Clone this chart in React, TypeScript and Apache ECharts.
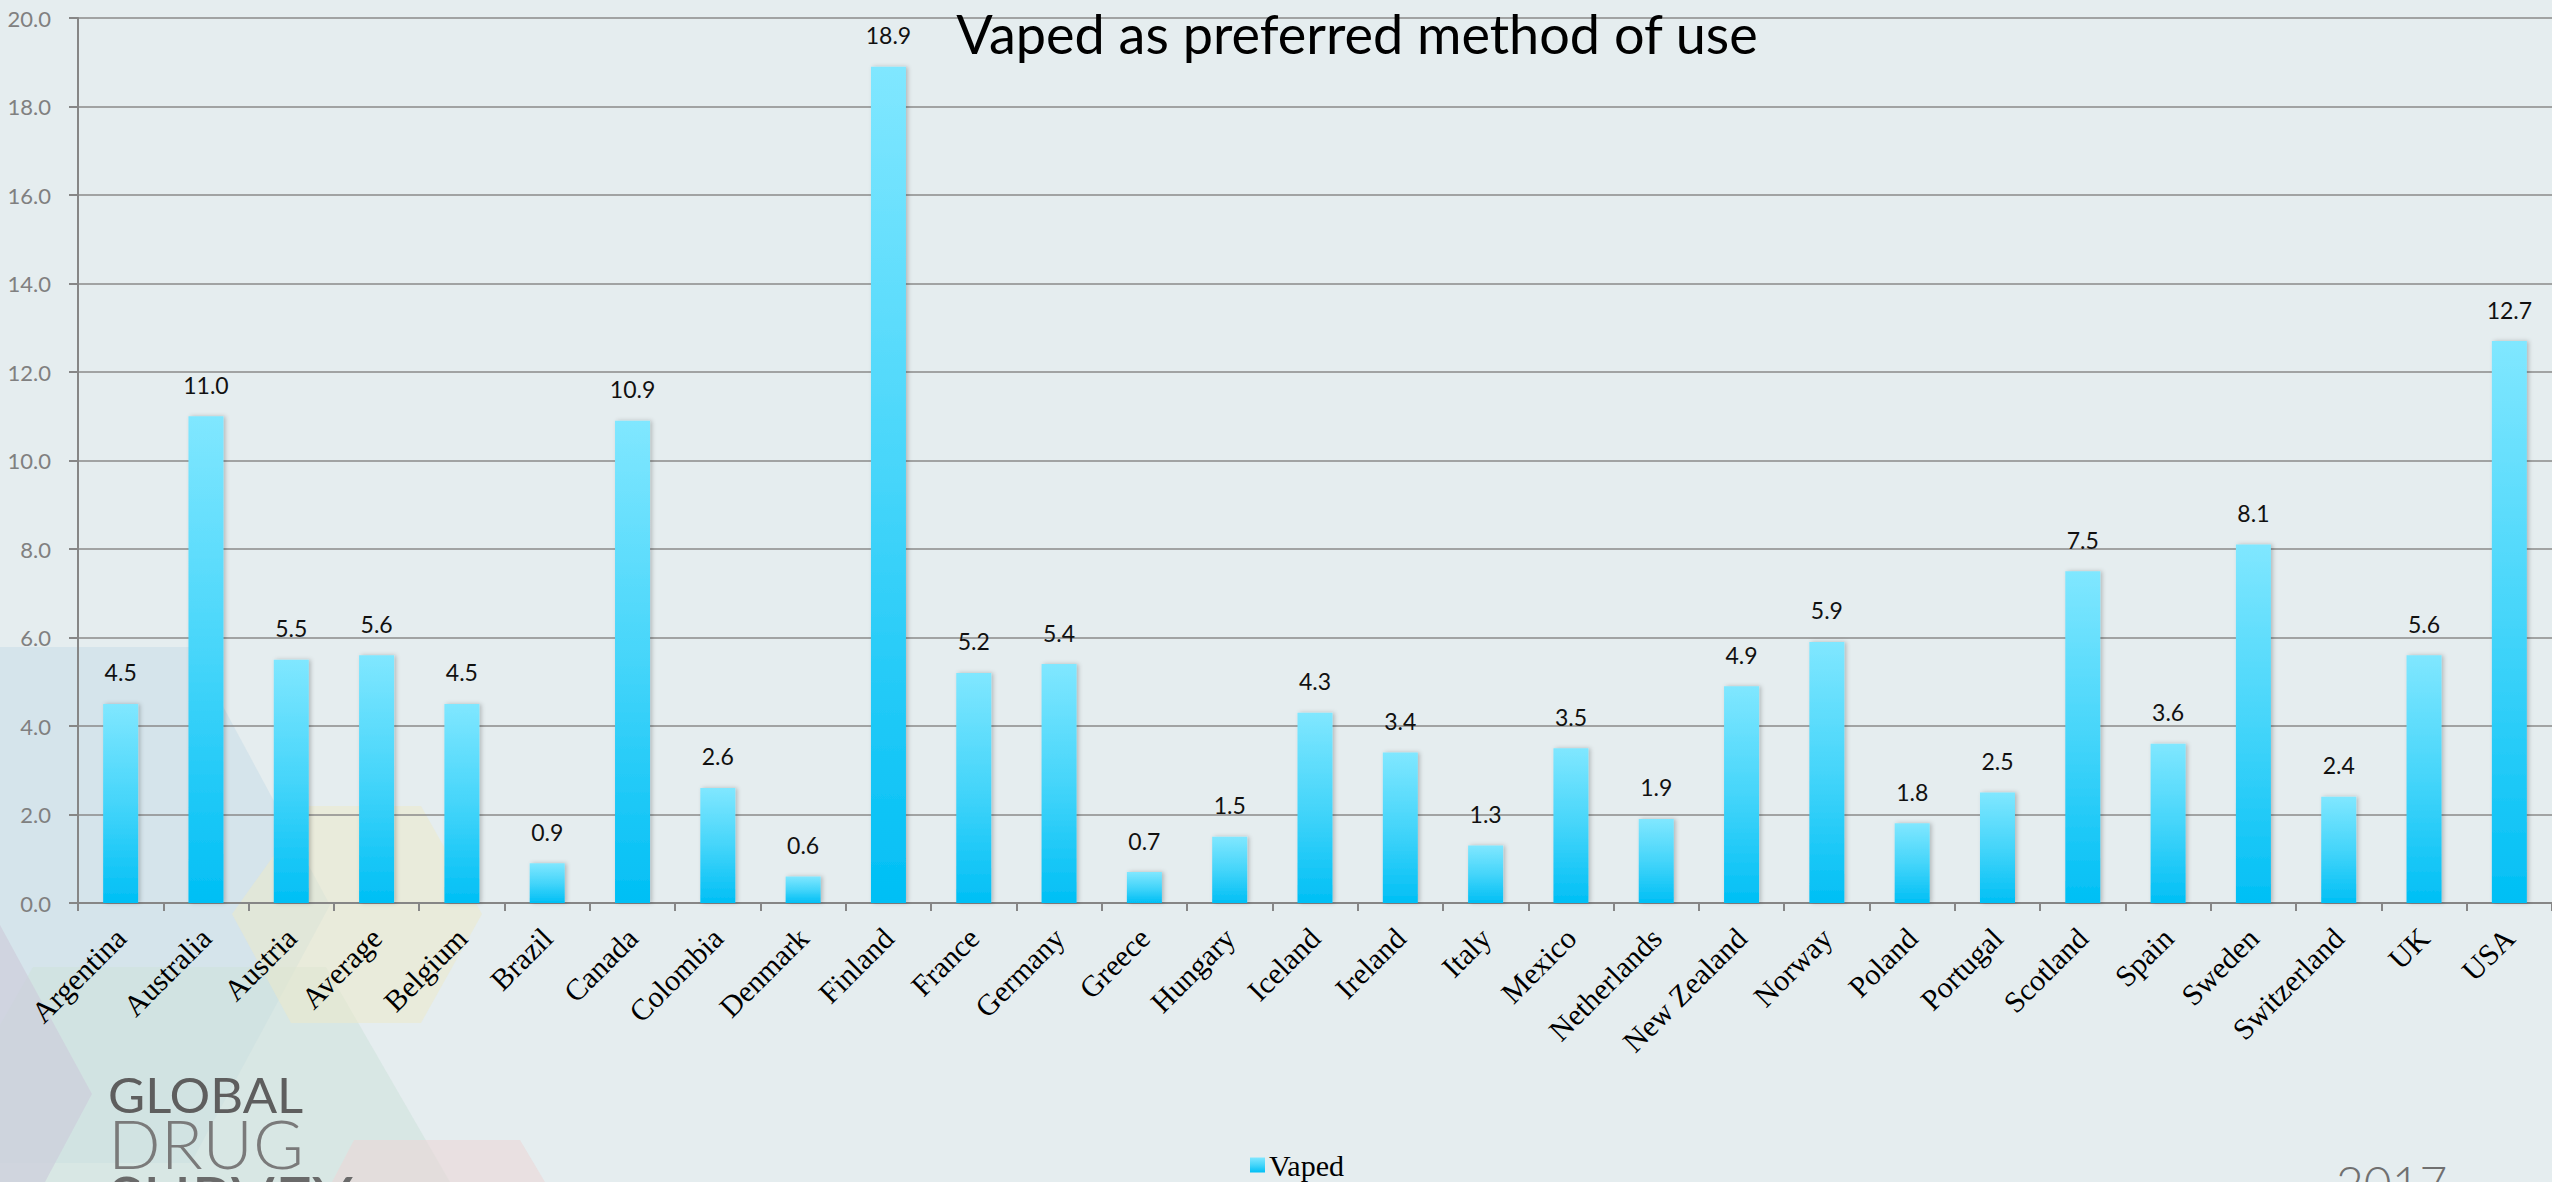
import React, { useEffect, useRef } from "react";
import * as echarts from "echarts";

const chartTitle = "Vaped as preferred method of use";
const seriesName = "Vaped";
const categories = [
  "Argentina", "Australia", "Austria", "Average", "Belgium", "Brazil", "Canada",
  "Colombia", "Denmark", "Finland", "France", "Germany", "Greece", "Hungary",
  "Iceland", "Ireland", "Italy", "Mexico", "Netherlands", "New Zealand", "Norway",
  "Poland", "Portugal", "Scotland", "Spain", "Sweden", "Switzerland", "UK", "USA",
];
const vapedValues = [
  4.5, 11.0, 5.5, 5.6, 4.5, 0.9, 10.9, 2.6, 0.6, 18.9, 5.2, 5.4, 0.7, 1.5,
  4.3, 3.4, 1.3, 3.5, 1.9, 4.9, 5.9, 1.8, 2.5, 7.5, 3.6, 8.1, 2.4, 5.6, 12.7,
];
const yMin = 0;
const yMax = 20;
const yInterval = 2;

export default function App() {
  const ref = useRef<HTMLDivElement>(null);

  useEffect(() => {
    if (!ref.current) return;
    const chart = echarts.init(ref.current, null, { renderer: "svg" });

    const barGradient = new echarts.graphic.LinearGradient(0, 0, 0, 1, [
      { offset: 0, color: "#80E7FF" },
      { offset: 0.5, color: "#45D5FA" },
      { offset: 1, color: "#00BFF5" },
    ]);

    const deco = (points: number[][], fill: string) => ({
      type: "polygon",
      z: -10,
      silent: true,
      shape: { points },
      style: { fill },
    });

    chart.setOption({
      animation: false,
      backgroundColor: "#E5EDEF",
      grid: { left: 78, top: 18, width: 2481, bottom: 279, containLabel: false },
      legend: {
        data: [seriesName],
        left: 1245,
        top: 1145,
        itemWidth: 15,
        itemHeight: 15,
        itemGap: 6,
        icon: "rect",
        selectedMode: false,
        textStyle: { fontFamily: "Liberation Serif", fontSize: 30, color: "#000", padding: [0, 0, 0, -1] },
      },
      xAxis: {
        type: "category",
        data: categories,
        boundaryGap: true,
        axisLine: { lineStyle: { color: "#868686", width: 2 } },
        axisTick: { show: true, length: 8, alignWithLabel: false, lineStyle: { color: "#868686", width: 2 } },
        axisLabel: {
          interval: 0,
          rotate: 45,
          margin: 30,
          fontFamily: "Liberation Serif",
          fontSize: 30,
          color: "#000",
        },
      },
      yAxis: {
        type: "value",
        min: yMin,
        max: yMax,
        interval: yInterval,
        axisLine: { show: true, lineStyle: { color: "#868686", width: 2 } },
        axisTick: { show: true, length: 9, lineStyle: { color: "#868686", width: 2 } },
        splitLine: { lineStyle: { color: "#8A8A8A", width: 1.5 } },
        axisLabel: {
          margin: 27,
          fontFamily: "Lato",
          fontSize: 22,
          color: "#808080",
          formatter: (v: number) => v.toFixed(1),
        },
      },
      series: [
        {
          name: seriesName,
          type: "bar",
          data: vapedValues,
          barWidth: 35,
          itemStyle: {
            color: barGradient,
            shadowColor: "rgba(0,0,0,0.22)",
            shadowBlur: 4,
            shadowOffsetX: 2,
          },
          label: {
            show: true,
            position: "top",
            distance: 20,
            fontFamily: "Lato",
            fontSize: 23,
            color: "#111",
            formatter: (p: any) => Number(p.value).toFixed(1),
          },
        },
      ],
      graphic: {
        elements: [
          deco([[0, 647], [191, 647], [330, 905], [191, 1163], [0, 1163]], "rgba(200,220,232,0.55)"),
          deco([[33, 967], [326, 967], [450, 1182], [0, 1182], [0, 1025]], "rgba(205,225,218,0.55)"),
          deco([[0, 925], [92, 1094], [45, 1182], [0, 1182]], "rgba(205,205,220,0.7)"),
          deco([[309, 806], [421, 806], [482, 914], [421, 1023], [291, 1023], [232, 914]], "rgba(238,234,200,0.5)"),
          deco([[354, 1140], [520, 1140], [545, 1182], [332, 1182]], "rgba(235,215,215,0.6)"),
          {
            type: "text",
            x: 1357,
            y: 33,
            z: 10,
            style: {
              text: chartTitle,
              fill: "#000",
              font: "54px Lato",
              align: "center",
              verticalAlign: "middle",
              textAlign: "center",
              textVerticalAlign: "middle",
            },
          },
          {
            type: "text",
            x: 108,
            y: 1095,
            z: 5,
            scaleX: 1.06,
            style: {
              text: "GLOBAL",
              fill: "#5E5E5E",
              font: "48px Lato",
              verticalAlign: "middle",
              textVerticalAlign: "middle",
            },
          },
          {
            type: "text",
            x: 108,
            y: 1143,
            z: 5,
            scaleX: 1.05,
            style: {
              text: "DRUG",
              fill: "#7A7A7A",
              font: "300 66px Lato",
              verticalAlign: "middle",
              textVerticalAlign: "middle",
            },
          },
          {
            type: "text",
            x: 108,
            y: 1198,
            z: 5,
            scaleX: 1.05,
            style: {
              text: "SURVEY",
              fill: "#6A6A6A",
              font: "62px Lato",
              verticalAlign: "middle",
              textVerticalAlign: "middle",
            },
          },
          {
            type: "text",
            x: 2336,
            y: 1182,
            z: 5,
            style: {
              text: "2017",
              fill: "#707070",
              font: "300 48px Lato",
              verticalAlign: "middle",
              textVerticalAlign: "middle",
            },
          },
        ],
      },
    });

    return () => chart.dispose();
  }, []);

  return (
    <div
      ref={ref}
      style={{ position: "fixed", left: 0, top: 0, width: 2552, height: 1182, overflow: "hidden" }}
    />
  );
}
